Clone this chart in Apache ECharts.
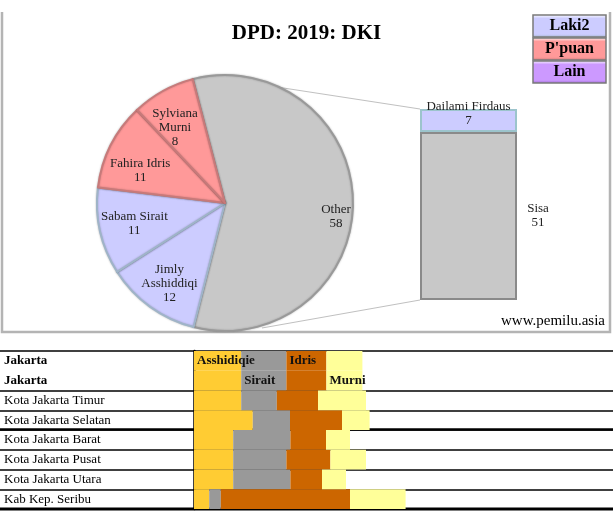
<!DOCTYPE html>
<html>
<head>
<meta charset="utf-8">
<script src="https://cdn.jsdelivr.net/npm/echarts@6/dist/echarts.min.js"></script>
<style>html,body{margin:0;padding:0;background:#fff}#c{width:613px;height:521px}</style>
</head>
<body>
<div id="c"></div>
<script>
// ---- data ----
const pieNames = ['Other', 'Jimly\nAsshiddiqi', 'Sabam Sirait', 'Fahira Idris', 'Sylviana\nMurni'];
const pieValues = [58, 12, 11, 11, 8];
const pieGroups = ['other', 'Laki2', 'Laki2', "P'puan", "P'puan"];
const barNames = ['Dailami Firdaus', 'Sisa'];
const barValues = [7, 51];
const legendNames = ['Laki2', "P'puan", 'Lain'];
const rowLabels = ['Jakarta', 'Jakarta', 'Kota Jakarta Timur', 'Kota Jakarta Selatan', 'Kota Jakarta Barat', 'Kota Jakarta Pusat', 'Kota Jakarta Utara', 'Kab Kep. Seribu'];
const candidates = ['Asshidiqie', 'Sirait', 'Idris', 'Murni'];
const headerRow = [11.8, 11.3, 10.0, 9.0];
const asshidiqie = [11.8, 14.7, 9.8, 9.8, 9.8, 3.8];
const sirait = [8.9, 9.3, 14.3, 13.3, 14.3, 2.9];
const idris = [10.3, 13.0, 8.9, 11.0, 7.9, 32.3];
const murni = [12.0, 6.9, 6.0, 8.9, 6.0, 13.9];

// ---- styles ----
const SERIF = '"Liberation Serif", "DejaVu Serif", serif';
const groupColor = { other: '#C8C8C8', 'Laki2': '#CCCCFF', "P'puan": '#FF9999', 'Lain': '#CC99FF' };
const groupBorder = { other: '#999999', 'Laki2': '#9fb4c8', "P'puan": '#c77a7a', 'Lain': '#9966cc' };
const candColors = ['#FFCC33', '#999999', '#CC6600', '#FFFF99'];
const candRows = [asshidiqie, sirait, idris, murni];
const headerLabelRow = [0, 1, 0, 1];
const pieLabelShift = [[16, 14], [0, 4], [2, 0], [0, 10], [-4, 8]];

const chart = echarts.init(document.getElementById('c'));
const PIE_CENTER = [225, 203], PIE_R = 128, START = 104.6;

const pieData = pieValues.map((v, i) => ({
  name: pieNames[i], value: v,
  itemStyle: { color: groupColor[pieGroups[i]], borderColor: groupBorder[pieGroups[i]], borderWidth: 2 }
}));
const pieLabelData = pieValues.map((v, i) => ({ name: pieNames[i], value: v }));

const tableSeries = candidates.map((c, k) => ({
  type: 'bar', name: c, stack: 'tbl', xAxisIndex: 1, yAxisIndex: 1,
  barWidth: '100%', silent: true,
  itemStyle: { color: candColors[k] },
  data: [headerRow[k], headerRow[k]].concat(candRows[k]).map((v, i) => (
    i === headerLabelRow[k]
      ? { value: v, label: { show: true, formatter: c } }
      : v
  )),
  label: { show: false, position: 'insideLeft', distance: 3, fontFamily: SERIF, fontWeight: 'bold', fontSize: 13, color: '#111' }
}));

const graphics = [
  // chart frame
  { type: 'polyline', shape: { points: [[2, 12], [2, 332], [610, 332], [610, 12]] }, style: { stroke: '#b4b4b4', lineWidth: 2.5, fill: null }, silent: true },
  // connector lines bar-of-pie
  { type: 'line', shape: { x1: 212, y1: 77, x2: 420, y2: 109 }, style: { stroke: '#c0c0c0', lineWidth: 1 }, silent: true },
  { type: 'line', shape: { x1: 262, y1: 328, x2: 420, y2: 300 }, style: { stroke: '#c0c0c0', lineWidth: 1 }, silent: true },
  // title
  { type: 'text', left: 'center', top: 23, style: { text: 'DPD: 2019: DKI', font: 'bold 21px ' + SERIF, fill: '#000' }, silent: true },
  // credit
  { type: 'text', right: 8, top: 314, style: { text: 'www.pemilu.asia', font: '15px ' + SERIF, fill: '#000' }, silent: true },
  // thick table lines
  { type: 'line', shape: { x1: 0, y1: 429.5, x2: 613, y2: 429.5 }, style: { stroke: '#000', lineWidth: 2.5 }, silent: true },
  { type: 'line', shape: { x1: 0, y1: 509, x2: 613, y2: 509 }, style: { stroke: '#000', lineWidth: 3 }, silent: true }
];
legendNames.forEach((n, i) => {
  const y = 15 + i * 23;
  graphics.push({
    type: 'group', silent: true, children: [
      { type: 'rect', shape: { x: 533, y: y, width: 73, height: 22 },
        style: { fill: new echarts.graphic.LinearGradient(0, 0, 0, 1, [
          { offset: 0, color: '#ffffff' }, { offset: 0.18, color: groupColor[n] }, { offset: 0.85, color: groupColor[n] }, { offset: 1, color: groupBorder[n] }]),
          stroke: '#7a7a7a', lineWidth: 1.5 } },
      { type: 'text', style: { x: 569.5, y: y + 11, text: n, font: 'bold 16px ' + SERIF, fill: '#000', align: 'center', verticalAlign: 'middle' } }
    ]
  });
});

chart.setOption({
  animation: false,
  backgroundColor: '#fff',
  graphic: graphics,
  grid: [
    { left: 420, top: 109, width: 97, height: 191 },
    { left: 194, top: 351, width: 400, height: 158 },
    { left: 0, right: 0, top: 351, height: 158 }
  ],
  xAxis: [
    { gridIndex: 0, type: 'category', data: ['bar'], show: false },
    { gridIndex: 1, type: 'value', min: 0, max: 100, show: false },
    { gridIndex: 2, type: 'value', min: 0, max: 1, show: false }
  ],
  yAxis: [
    { gridIndex: 0, type: 'value', min: 0, max: 58, show: false },
    { gridIndex: 1, type: 'category', inverse: true, data: rowLabels.map((_, i) => 'r' + i),
      axisLine: { show: true, lineStyle: { color: '#000', width: 2.5 } }, axisTick: { show: false }, axisLabel: { show: false }, splitLine: { show: false } },
    { gridIndex: 2, type: 'category', inverse: true, data: rowLabels.map((_, i) => 'r' + i),
      axisLine: { show: false }, axisTick: { show: false },
      splitLine: { show: true, lineStyle: { width: 1.5, color: ['#000', 'rgba(0,0,0,0)', '#000', '#000', '#000', '#000', '#000', '#000', '#000'] } },
      axisLabel: { inside: true, margin: 4, fontFamily: SERIF, fontSize: 13, color: '#000',
        formatter: (v, i) => i < 2 ? '{b|' + rowLabels[i] + '}' : rowLabels[i],
        rich: { b: { fontFamily: SERIF, fontSize: 13, fontWeight: 'bold', color: '#000' } } } }
  ],
  series: [
    { type: 'pie', center: PIE_CENTER, radius: PIE_R, startAngle: START, clockwise: true,
      silent: true, label: { show: false }, labelLine: { show: false }, data: pieData,
      itemStyle: { shadowBlur: 2, shadowColor: 'rgba(0,0,0,0.25)' } },
    { type: 'pie', center: PIE_CENTER, radius: [56, PIE_R], startAngle: START, clockwise: true,
      silent: true, itemStyle: { color: 'rgba(0,0,0,0)' }, labelLine: { show: false },
      label: { show: true, position: 'inside', fontFamily: SERIF, fontSize: 13, lineHeight: 14, color: '#222',
        formatter: p => p.name + '\n' + p.value },
      labelLayout: p => ({ dx: pieLabelShift[p.dataIndex][0], dy: pieLabelShift[p.dataIndex][1], hideOverlap: false }),
      data: pieLabelData },
    { type: 'bar', name: barNames[1], stack: 'bop', xAxisIndex: 0, yAxisIndex: 0, barWidth: '100%', silent: true,
      itemStyle: { color: groupColor.other, borderColor: '#8a8a8a', borderWidth: 2 },
      label: { show: true, position: 'right', distance: 1, fontFamily: SERIF, fontSize: 13, lineHeight: 14, color: '#222',
        formatter: p => '{c|' + barNames[1] + '}\n{c|' + p.value + '}', rich: { c: { align: 'center', width: 40, fontFamily: SERIF, fontSize: 13, lineHeight: 14, color: '#222' } } },
      data: [barValues[1]] },
    { type: 'bar', name: barNames[0], stack: 'bop', xAxisIndex: 0, yAxisIndex: 0, barWidth: '100%', silent: true,
      itemStyle: { color: groupColor['Laki2'], borderColor: '#9cc4cc', borderWidth: 2 },
      label: { show: true, position: 'inside', offset: [0, -7], fontFamily: SERIF, fontSize: 13, lineHeight: 14, color: '#222',
        formatter: p => barNames[0] + '\n' + p.value },
      data: [barValues[0]] }
  ].concat(tableSeries)
});
</script>
</body>
</html>
